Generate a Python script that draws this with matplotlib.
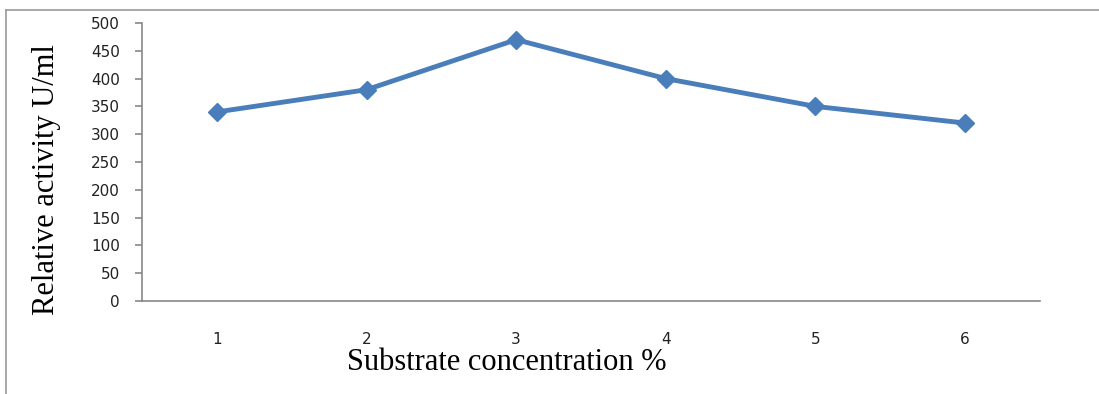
import matplotlib
matplotlib.use("Agg")
import matplotlib.pyplot as plt
from matplotlib.lines import Line2D

concentration = [1, 2, 3, 4, 5, 6]
activity = [340, 380, 470, 400, 350, 320]
y_ticks = list(range(0, 501, 50))

W, H = 1099, 394
fig = plt.figure(figsize=(W / 100, H / 100), dpi=100)

# axes box in pixels: left 142, right 1040, top 23, bottom 301
left, right, top, bottom = 142, 1040, 23, 301
ax = fig.add_axes([left / W, 1 - bottom / H, (right - left) / W, (bottom - top) / H])

ax.plot(concentration, activity, color="#4a7ebb", lw=3.5, marker="D", ms=9,
        markeredgecolor="#4a7ebb", solid_joinstyle="round")

ax.set_xlim(0.5, 6.5)
ax.set_ylim(0, 500)
ax.set_yticks(y_ticks)
ax.set_xticks(concentration)

for side in ("top", "right"):
    ax.spines[side].set_visible(False)
for side in ("left", "bottom"):
    ax.spines[side].set_color("#888888")
    ax.spines[side].set_linewidth(1.2)

ax.tick_params(axis="y", length=5, width=1.2, color="#888888", pad=11,
               labelsize=11, labelcolor="#222222")
ax.tick_params(axis="x", length=0, pad=22, labelsize=11, labelcolor="#222222")

fig.text(47 / W, 1 - 180 / H, "Relative activity U/ml", rotation=90,
         ha="center", va="center", family="Liberation Serif", fontsize=22)
fig.text(507 / W, 1 - 362 / H, "Substrate concentration %",
         ha="center", va="center", family="Liberation Serif", fontsize=22)

# outer chart border (left and top edges visible)
fig.add_artist(Line2D([6 / W, 6 / W], [0, 1 - 10 / H], transform=fig.transFigure,
                      color="#999999", lw=1.2))
fig.add_artist(Line2D([6 / W, 1], [1 - 10 / H, 1 - 10 / H], transform=fig.transFigure,
                      color="#999999", lw=1.2))

fig.savefig("out.png", dpi=100)
